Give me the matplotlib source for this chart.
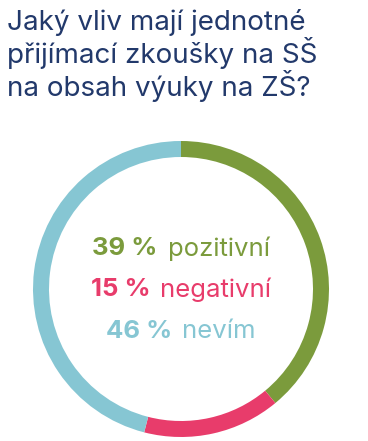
import matplotlib
matplotlib.use("Agg")
import matplotlib.pyplot as plt

# data
labels = ["pozitivní", "negativní", "nevím"]
values = [39, 15, 46]
colors = ["#7b9b3c", "#e83c6b", "#86c6d3"]
title = "Jaký vliv mají jednotné\npřijímací zkoušky na SŠ\nna obsah výuky na ZŠ?"

W, H = 368, 441
fig = plt.figure(figsize=(W / 100, H / 100), dpi=100)
plt.rcParams['font.family'] = ['Inter', 'DejaVu Sans']

# ring: centre (181, 289) px, radius 148 px
cx, cy, r = 181, 289, 148
ax = fig.add_axes([(cx - r) / W, (H - cy - r) / H, 2 * r / W, 2 * r / H])
ax.pie(values, colors=colors, startangle=90, counterclock=False,
       wedgeprops=dict(width=16 / r, linewidth=0))
ax.set_xlim(-1, 1)
ax.set_ylim(-1, 1)
ax.axis('off')

fig.text(7 / W, 1 - 9 / H, title, ha='left', va='top', fontsize=20,
         color="#22396b", linespacing=1.03)

# centre labels: bold number + light word, centred as one line
renderer = fig.canvas.get_renderer()
line_y = [249, 290, 331]
for v, lab, col, yy in zip(values, labels, colors, line_y):
    y = 1 - yy / H
    t1 = fig.text(0, y, f"{v} %", fontsize=18.5, fontweight='bold', color=col,
                  ha='left', va='center')
    t2 = fig.text(0, y, lab, fontsize=18.5, fontweight='normal', color=col,
                  ha='left', va='center')
    w1 = t1.get_window_extent(renderer).width
    w2 = t2.get_window_extent(renderer).width
    gap = 10
    start = cx - (w1 + gap + w2) / 2
    t1.set_x(start / W)
    t2.set_x((start + w1 + gap) / W)

fig.savefig("out.png", dpi=100)
